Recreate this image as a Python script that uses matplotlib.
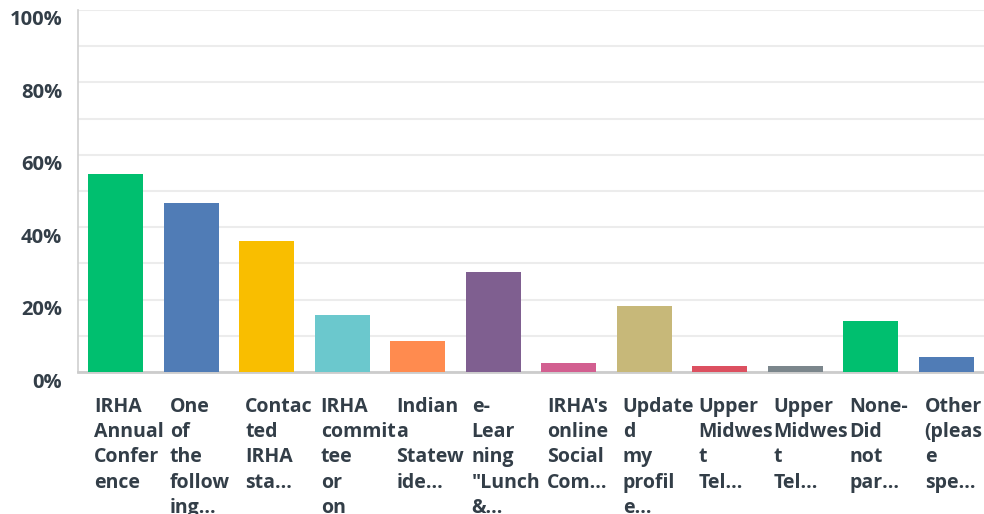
import matplotlib.pyplot as plt
from matplotlib.ticker import MultipleLocator
from matplotlib.transforms import ScaledTranslation

plt.rcParams['font.family'] = ['Open Sans', 'DejaVu Sans']

labels = [
    "IRHA\nAnnual\nConfer\nence",
    "One\nof\nthe\nfollow\ning...",
    "Contac\nted\nIRHA\nsta...",
    "IRHA\ncommit\ntee\nor\non",
    "Indian\na\nStatew\nide...",
    "e-\nLear\nning\n\"Lunch\n&...",
    "IRHA's\nonline\nSocial\nCom...",
    "Update\nd\nmy\nprofil\ne...",
    "Upper\nMidwes\nt\nTel...",
    "Upper\nMidwes\nt\nTel...",
    "None-\nDid\nnot\npar...",
    "Other\n(pleas\ne\nspe...",
]
values = [54.7, 46.7, 36.2, 15.7, 8.6, 27.6, 2.5, 18.2, 1.7, 1.7, 14.1, 4.1]
colors = ["#00bf6f", "#507cb6", "#f9be00", "#6bc8cd", "#ff8b4f", "#7f5f90",
          "#d25f90", "#c7b879", "#dc5060", "#7b868c", "#00bf6f", "#507cb6"]

text_color = "#333e48"

fig = plt.figure(figsize=(9.84, 5.14), dpi=100)
ax = fig.add_axes([78 / 984, 1 - 372 / 514, 906 / 984, 362 / 514])

x = list(range(len(values)))
bar_w = 0.73
ax.bar(x, values, width=bar_w, color=colors, zorder=3)

ax.set_xlim(-0.5, len(values) - 0.5)
ax.set_ylim(0, 100)
ax.yaxis.set_major_locator(MultipleLocator(20))
ax.yaxis.set_minor_locator(MultipleLocator(10))
ax.set_yticklabels(["{}%".format(int(v)) for v in ax.get_yticks()])
ax.grid(axis='y', which='both', color='#ececec', linewidth=1.5, zorder=0)
ax.tick_params(axis='y', which='both', length=0, pad=11.5, labelsize=14.5,
               labelcolor=text_color)
# labels sit a little below their gridline in the original
shift = ScaledTranslation(0, -8 / 100, fig.dpi_scale_trans)
for t in ax.get_yticklabels():
    t.set_fontweight('bold')
    t.set_transform(t.get_transform() + shift)
ax.set_xticks([])

for s in ['top', 'right']:
    ax.spines[s].set_visible(False)
ax.spines['left'].set_color('#d0d0d0')
ax.spines['left'].set_linewidth(1.2)
ax.spines['bottom'].set_color('#cccccc')
ax.spines['bottom'].set_linewidth(2)

for i, lab in enumerate(labels):
    ax.text(i - bar_w / 2 + 0.08, -6.8, lab, ha='left', va='top', fontsize=14,
            fontweight='bold', color=text_color, linespacing=1.36,
            clip_on=False)

fig.savefig("out.png", dpi=100)
